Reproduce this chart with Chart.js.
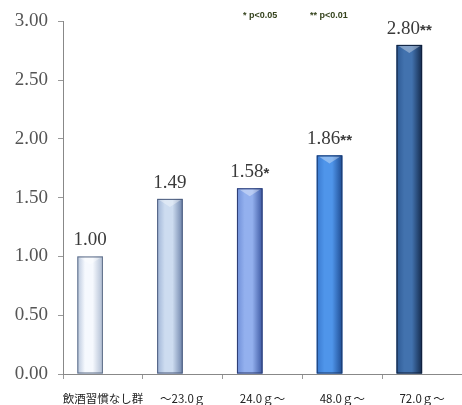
<!DOCTYPE html>
<html lang="ja">
<head>
    <meta charset="UTF-8">
    <title>飲酒量別 比</title>
    <style>
        html, body {
            margin: 0;
            padding: 0;
            background: #fff;
        }
        #wrap {
            width: 462px;
            height: 405px;
            position: relative;
        }
    </style>
    <script src="https://cdn.jsdelivr.net/npm/chart.js"></script>
</head>
<body>
    <div id="wrap"><canvas id="ratioChart"></canvas></div>
    <script>
        // data
        const categories = ['飲酒習慣なし群', '～23.0ｇ', '24.0ｇ～', '48.0ｇ～', '72.0ｇ～'];
        const ratios = [1.00, 1.49, 1.58, 1.86, 2.80];
        const marks = ['', '', '*', '**', '**'];
        const notes = ['* p<0.05', '** p<0.01'];

        // bar colours: [edge, light centre, dark side, outline]
        const barColors = [
            ['#b8c6dc', '#f6f9fe', '#aebcd2', '#5f6e88'],
            ['#9fb4d6', '#cddcf0', '#6d83aa', '#4a5a7c'],
            ['#6f8fd8', '#93b0ee', '#3c58a2', '#2c3c72'],
            ['#3a7ad0', '#4f95ea', '#1f4c92', '#1b3a6e'],
            ['#2e5a94', '#4272ae', '#142a4c', '#10203c']
        ];

        const serif = '"Liberation Serif", "DejaVu Serif", serif';

        // shading, bevel and value labels on top of the plain bars
        const barLook = {
            id: 'barLook',
            afterDatasetsDraw(chart) {
                const ctx = chart.ctx;
                const meta = chart.getDatasetMeta(0);
                meta.data.forEach((el, i) => {
                    const p = el.getProps(['x', 'y', 'base', 'width'], true);
                    const l = p.x - p.width / 2, r = p.x + p.width / 2;
                    const c = barColors[i];
                    ctx.save();
                    const g = ctx.createLinearGradient(l, 0, r, 0);
                    g.addColorStop(0, c[0]);
                    g.addColorStop(0.3, c[1]);
                    g.addColorStop(0.6, c[1]);
                    g.addColorStop(1, c[2]);
                    ctx.fillStyle = g;
                    ctx.fillRect(l, p.y, p.width, p.base - p.y);
                    // top bevel
                    ctx.fillStyle = 'rgba(255,255,255,0.35)';
                    ctx.beginPath();
                    ctx.moveTo(l + 2, p.y + 1);
                    ctx.lineTo(r - 2, p.y + 1);
                    ctx.lineTo(p.x, p.y + 8);
                    ctx.closePath();
                    ctx.fill();
                    ctx.strokeStyle = c[3];
                    ctx.lineWidth = 1;
                    ctx.strokeRect(l + 0.5, p.y + 0.5, p.width - 1, p.base - p.y - 1);

                    // value label
                    const num = ratios[i].toFixed(2);
                    ctx.font = '19px ' + serif;
                    const w1 = ctx.measureText(num).width;
                    ctx.font = 'bold 15px "Liberation Sans", sans-serif';
                    const w2 = marks[i] ? ctx.measureText(marks[i]).width : 0;
                    const start = p.x - (w1 + w2) / 2;
                    ctx.textBaseline = 'alphabetic';
                    ctx.textAlign = 'left';
                    ctx.fillStyle = '#3a3a3a';
                    ctx.font = '19px ' + serif;
                    ctx.fillText(num, start, p.y - 11);
                    if (marks[i]) {
                        ctx.font = 'bold 15px "Liberation Sans", sans-serif';
                        ctx.fillText(marks[i], start + w1, p.y - 10);
                    }
                    ctx.restore();
                });

                // significance notes at the top
                ctx.save();
                ctx.font = 'bold 9px "Liberation Sans", sans-serif';
                ctx.fillStyle = '#34421c';
                ctx.textBaseline = 'middle';
                ctx.fillText(notes[0], 243, 16);
                ctx.fillText(notes[1], 310, 16);
                ctx.restore();
            }
        };

        new Chart(document.getElementById('ratioChart'), {
            type: 'bar',
            data: {
                labels: categories,
                datasets: [{
                    data: ratios,
                    backgroundColor: barColors.map(c => c[0]),
                    borderWidth: 0
                }, {
                    // empty slot, keeps the bars left of the category centre
                    data: categories.map(() => null)
                }]
            },
            options: {
                responsive: true,
                maintainAspectRatio: false,
                animation: false,
                categoryPercentage: 0.64,
                barPercentage: 1.0,
                layout: {
                    padding: { top: 21, right: 0, left: 0, bottom: 0 }
                },
                plugins: {
                    legend: { display: false },
                    tooltip: { enabled: false }
                },
                scales: {
                    x: {
                        afterFit: s => { s.height = 31; },
                        grid: {
                            offset: true,
                            drawOnChartArea: false,
                            color: '#999',
                            tickLength: 5
                        },
                        border: { color: '#888' },
                        ticks: {
                            color: '#222',
                            padding: 13,
                            maxRotation: 0,
                            autoSkip: false,
                            font: { family: '"Noto Sans CJK JP", sans-serif', size: 11.5 }
                        }
                    },
                    y: {
                        min: 0,
                        max: 3,
                        afterFit: s => { s.width = 63; },
                        grid: {
                            drawOnChartArea: false,
                            color: '#999',
                            tickLength: 5
                        },
                        border: { color: '#888' },
                        ticks: {
                            stepSize: 0.5,
                            color: '#555',
                            padding: 10,
                            font: { family: serif, size: 19 },
                            callback: v => v.toFixed(2)
                        }
                    }
                }
            },
            plugins: [barLook]
        });
    </script>
</body>
</html>
